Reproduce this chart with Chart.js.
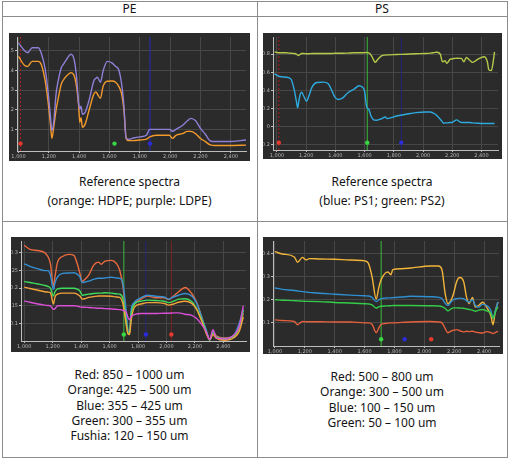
<!DOCTYPE html>
<html>
<head>
<meta charset="utf-8">
<script src="https://cdn.jsdelivr.net/npm/chart.js@4.4.0/dist/chart.umd.min.js"></script>
<style>
  body { margin: 0; background: #fff; font-family: "Noto Sans", sans-serif; color: #141414; }
  #page { position: relative; width: 510px; height: 462px; overflow: hidden; }
  .hl, .vl { position: absolute; background: #8c8c8c; }
  .hl { height: 1px; left: 2px; width: 506px; }
  .vl { width: 1px; top: 1px; height: 457px; }
  .head { position: absolute; top: 1px; height: 15px; line-height: 15px; font-size: 12px; text-align: center; }
  .cap { position: absolute; text-align: center; font-size: 12px; }
  .box { position: absolute; background: #2b2b2b; }
  .box canvas { display: block; }
</style>
</head>
<body>
<div id="page">
  <div class="hl" style="top:1px"></div>
  <div class="hl" style="top:16px"></div>
  <div class="hl" style="top:221px"></div>
  <div class="hl" style="top:457px"></div>
  <div class="vl" style="left:2px"></div>
  <div class="vl" style="left:257px"></div>
  <div class="vl" style="left:507px"></div>

  <div class="head" style="left:2px;width:255px">PE</div>
  <div class="head" style="left:257px;width:250px">PS</div>

  <div class="box" style="left:9px;top:33px;width:241px;height:128px"><canvas id="peRef" width="241" height="128"></canvas></div>
  <div class="box" style="left:263px;top:33px;width:239px;height:126px"><canvas id="psRef" width="239" height="126"></canvas></div>
  <div class="box" style="left:11px;top:237px;width:239px;height:115px"><canvas id="peSize" width="239" height="115"></canvas></div>
  <div class="box" style="left:263px;top:237px;width:240px;height:117px"><canvas id="psSize" width="240" height="117"></canvas></div>

  <div class="cap" style="left:2px;width:255px;top:173px;line-height:18.5px">Reference spectra<br>(orange: HDPE; purple: LDPE)</div>
  <div class="cap" style="left:257px;width:250px;top:173px;line-height:18.5px">Reference spectra<br>(blue: PS1; green: PS2)</div>
  <div class="cap" style="left:2px;width:255px;top:367px;line-height:15.3px">Red: 850 – 1000 um<br>Orange: 425 – 500 um<br>Blue: 355 – 425 um<br>Green: 300 – 355 um<br>Fushia: 120 – 150 um</div>
  <div class="cap" style="left:257px;width:250px;top:369px;line-height:15.3px">Red: 500 – 800 um<br>Orange: 300 – 500 um<br>Blue: 100 – 150 um<br>Green: 50 – 100 um</div>
</div>

<script>
// ---- PE reference spectra (wavenumber axis shared by both curves)
var peRefX = [1000, 1040, 1060, 1090, 1130, 1150, 1175, 1195, 1210, 1220, 1232, 1248, 1260, 1282, 1295, 1315, 1346, 1367, 1383, 1396,
  1404, 1412, 1421, 1440, 1466, 1497, 1510, 1520, 1540, 1558, 1585, 1616, 1640, 1660, 1680, 1695, 1709, 1725, 1757, 1800,
  1843, 1865, 1908, 1995, 2016, 2038, 2081, 2114, 2136, 2168, 2200, 2232, 2265, 2297, 2384, 2500];
var hdpe = [0.471, 0.425, 0.42, 0.446, 0.446, 0.43, 0.35, 0.24, 0.13, 0.054, 0.11, 0.2, 0.25, 0.33, 0.35, 0.37, 0.389, 0.373, 0.316, 0.226,
  0.136, 0.16, 0.111, 0.128, 0.2, 0.28, 0.291, 0.28, 0.258, 0.32, 0.345, 0.346, 0.34, 0.32, 0.28, 0.2, 0.06, 0.043, 0.043, 0.046,
  0.05, 0.062, 0.07, 0.07, 0.054, 0.07, 0.078, 0.09, 0.09, 0.078, 0.054, 0.038, 0.021, 0.018, 0.018, 0.02];
var ldpe = [0.54, 0.5, 0.49, 0.515, 0.515, 0.487, 0.41, 0.29, 0.17, 0.095, 0.136, 0.283, 0.34, 0.414, 0.43, 0.454, 0.482, 0.454, 0.365, 0.234,
  0.203, 0.218, 0.177, 0.188, 0.25, 0.348, 0.36, 0.365, 0.34, 0.398, 0.446, 0.438, 0.42, 0.405, 0.33, 0.22, 0.056, 0.05, 0.056, 0.062,
  0.07, 0.1, 0.1, 0.1, 0.09, 0.1, 0.12, 0.144, 0.156, 0.144, 0.105, 0.075, 0.041, 0.038, 0.038, 0.046];
var peRefYTicks = [0.1, 0.2, 0.3, 0.4, 0.5];
var peRefCursors = [1013, 1633, 1867]; // red, green, blue

// ---- PS reference spectra
var psRefX = [984, 1018, 1062, 1096, 1118, 1133, 1142, 1147, 1156, 1169, 1184, 1202, 1218, 1240, 1273, 1318, 1351, 1373, 1396, 1418,
  1451, 1484, 1529, 1562, 1584, 1600, 1613, 1629, 1644, 1662, 1673, 1684, 1696, 1718, 1740, 1756, 1818, 1884, 1951, 2018,
  2051, 2084, 2096, 2118, 2133, 2140, 2151, 2162, 2184, 2196, 2218, 2229, 2262, 2280, 2296, 2318, 2340, 2373, 2418, 2440,
  2451, 2467, 2480, 2489];
var ps1 = [0.582, 0.553, 0.545, 0.524, 0.407, 0.28, 0.207, 0.25, 0.335, 0.378, 0.335, 0.28, 0.335, 0.436, 0.487, 0.491, 0.473, 0.407, 0.327, 0.298,
  0.316, 0.371, 0.415, 0.451, 0.436, 0.389, 0.225, 0.189, 0.116, 0.073, 0.07, 0.069, 0.075, 0.087, 0.105, 0.087, 0.116, 0.135, 0.153, 0.16,
  0.16, 0.135, 0.12, 0.08, 0.05, 0.036, 0.04, 0.04, 0.044, 0.044, 0.065, 0.073, 0.044, 0.044, 0.044, 0.044, 0.04, 0.036, 0.033, 0.033,
  0.033, 0.033, 0.033, 0.033];
var ps2 = [0.825, 0.815, 0.815, 0.81, 0.807, 0.8, 0.79, 0.785, 0.795, 0.807, 0.807, 0.805, 0.805, 0.807, 0.807, 0.807, 0.808, 0.808, 0.81, 0.81,
  0.81, 0.812, 0.815, 0.815, 0.815, 0.817, 0.818, 0.815, 0.79, 0.735, 0.709, 0.73, 0.753, 0.785, 0.79, 0.792, 0.796, 0.8, 0.805, 0.807,
  0.812, 0.82, 0.822, 0.8, 0.716, 0.72, 0.727, 0.698, 0.742, 0.748, 0.753, 0.755, 0.753, 0.716, 0.764, 0.735, 0.709, 0.742, 0.771, 0.716,
  0.625, 0.618, 0.716, 0.825];
var psRefYTicks = [-0.2, 0, 0.2, 0.4, 0.6, 0.8];
var psRefCursors = [1013, 1618, 1851];

// ---- PE particle sizes
var peSizeX = [1000, 1040, 1097, 1143, 1166, 1184, 1205, 1216, 1234, 1269, 1315, 1349, 1372, 1391, 1407, 1423, 1453, 1487, 1522, 1540,
  1568, 1614, 1648, 1671, 1694, 1717, 1729, 1740, 1752, 1775, 1821, 1867, 1924, 1982, 2016, 2050, 2085, 2131, 2177, 2212,
  2258, 2281, 2304, 2327, 2350, 2407, 2476, 2511, 2540];
var peRed = [0.322, 0.31, 0.307, 0.301, 0.29, 0.269, 0.205, 0.233, 0.274, 0.29, 0.296, 0.293, 0.27, 0.242, 0.219, 0.224, 0.237, 0.265, 0.274, 0.268,
  0.277, 0.279, 0.27, 0.251, 0.205, 0.114, 0.077, 0.07, 0.13, 0.155, 0.169, 0.178, 0.173, 0.173, 0.168, 0.178, 0.19, 0.202, 0.185, 0.16,
  0.105, 0.073, 0.055, 0.078, 0.064, 0.059, 0.064, 0.087, 0.128];
var peBlue = [0.269, 0.262, 0.255, 0.25, 0.25, 0.237, 0.196, 0.215, 0.232, 0.242, 0.243, 0.244, 0.24, 0.232, 0.216, 0.217, 0.22, 0.225, 0.228, 0.228,
  0.229, 0.231, 0.229, 0.228, 0.212, 0.132, 0.08, 0.075, 0.14, 0.16, 0.173, 0.18, 0.177, 0.175, 0.169, 0.175, 0.18, 0.185, 0.178, 0.158,
  0.105, 0.08, 0.053, 0.078, 0.06, 0.057, 0.068, 0.1, 0.14];
var peGreen = [0.219, 0.216, 0.212, 0.208, 0.205, 0.2, 0.178, 0.19, 0.198, 0.2, 0.2, 0.2, 0.197, 0.192, 0.18, 0.181, 0.183, 0.185, 0.186, 0.186,
  0.187, 0.186, 0.184, 0.183, 0.169, 0.105, 0.073, 0.072, 0.125, 0.155, 0.163, 0.166, 0.165, 0.163, 0.159, 0.163, 0.169, 0.17, 0.162, 0.142,
  0.1, 0.075, 0.053, 0.073, 0.062, 0.055, 0.064, 0.087, 0.137];
var peOrange = [0.203, 0.199, 0.194, 0.19, 0.189, 0.187, 0.155, 0.175, 0.183, 0.186, 0.186, 0.186, 0.183, 0.178, 0.169, 0.17, 0.174, 0.176, 0.178, 0.178,
  0.178, 0.177, 0.175, 0.174, 0.155, 0.096, 0.07, 0.068, 0.11, 0.146, 0.155, 0.159, 0.159, 0.157, 0.152, 0.155, 0.16, 0.163, 0.157, 0.14,
  0.095, 0.07, 0.054, 0.068, 0.058, 0.052, 0.06, 0.077, 0.118];
var peFushia = [0.164, 0.16, 0.155, 0.152, 0.151, 0.15, 0.14, 0.142, 0.15, 0.15, 0.15, 0.15, 0.149, 0.147, 0.146, 0.146, 0.145, 0.144, 0.143, 0.143,
  0.142, 0.141, 0.14, 0.139, 0.137, 0.132, 0.117, 0.11, 0.12, 0.125, 0.128, 0.128, 0.128, 0.129, 0.129, 0.13, 0.13, 0.126, 0.123, 0.114,
  0.091, 0.075, 0.054, 0.082, 0.059, 0.056, 0.068, 0.091, 0.15];
var peSizeYTicks = [0.1, 0.15, 0.2, 0.25, 0.3];
var peSizeCursors = [2034, 1700, 1855];

// ---- PS particle sizes
var psSizeX = [1000, 1050, 1130, 1151, 1184, 1210, 1230, 1300, 1400, 1500, 1600, 1625, 1650, 1678, 1697, 1711, 1737, 1757, 1776, 1789,
  1850, 1908, 2040, 2095, 2118, 2140, 2158, 2178, 2195, 2217, 2237, 2263, 2283, 2300, 2322, 2342, 2364, 2390, 2417, 2445,
  2460, 2475, 2493];
var psOrange = [0.408, 0.398, 0.385, 0.362, 0.383, 0.372, 0.378, 0.376, 0.375, 0.372, 0.368, 0.358, 0.3, 0.203, 0.258, 0.287, 0.314, 0.32, 0.308, 0.33,
  0.334, 0.337, 0.346, 0.346, 0.33, 0.225, 0.183, 0.196, 0.225, 0.279, 0.296, 0.279, 0.21, 0.183, 0.21, 0.168, 0.175, 0.189, 0.168, 0.133,
  0.092, 0.15, 0.19];
var psBlue = [0.251, 0.245, 0.24, 0.238, 0.235, 0.233, 0.232, 0.228, 0.224, 0.22, 0.217, 0.216, 0.21, 0.192, 0.2, 0.205, 0.207, 0.208, 0.208, 0.209,
  0.212, 0.215, 0.213, 0.21, 0.205, 0.185, 0.175, 0.19, 0.2, 0.205, 0.207, 0.205, 0.195, 0.19, 0.2, 0.175, 0.168, 0.18, 0.175, 0.154,
  0.12, 0.15, 0.19];
var psGreen = [0.2, 0.198, 0.196, 0.195, 0.194, 0.193, 0.193, 0.192, 0.188, 0.186, 0.183, 0.182, 0.178, 0.164, 0.17, 0.172, 0.173, 0.174, 0.174, 0.175,
  0.175, 0.175, 0.174, 0.173, 0.17, 0.162, 0.152, 0.16, 0.165, 0.165, 0.164, 0.163, 0.16, 0.158, 0.155, 0.15, 0.155, 0.158, 0.152, 0.142,
  0.12, 0.145, 0.17];
var psRed = [0.113, 0.11, 0.106, 0.092, 0.106, 0.105, 0.105, 0.105, 0.104, 0.104, 0.1, 0.1, 0.094, 0.058, 0.08, 0.094, 0.097, 0.099, 0.1, 0.1,
  0.102, 0.104, 0.106, 0.104, 0.1, 0.075, 0.057, 0.064, 0.068, 0.071, 0.066, 0.061, 0.064, 0.062, 0.064, 0.06, 0.058, 0.056, 0.062, 0.058,
  0.054, 0.058, 0.064];
var psSizeYTicks = [0.1, 0.2, 0.3, 0.4];
var psSizeCursors = [2046, 1711, 1868];

var xTickValues = [1000, 1200, 1400, 1600, 1800, 2000, 2200, 2400];

function pts(xs, ys) {
  return xs.map(function (x, i) { return { x: x, y: ys[i] }; });
}

// cursors: [wavenumber, line colour, show vertical line, dashed, dot colour]
function cursorSets(list, yMin, yMax) {
  var sets = [];
  list.forEach(function (c) {
    if (c[2]) {
      sets.push({ data: [{ x: c[0], y: yMin }, { x: c[0], y: yMax }], borderColor: c[1], borderWidth: 1,
        borderDash: c[3] ? [2, 2] : [], pointRadius: 0, order: 10 });
    }
    sets.push({ data: [{ x: c[0], y: yMin + (yMax - yMin) * 0.065 }], showLine: false, pointRadius: 2.2,
      pointBackgroundColor: c[4], pointBorderWidth: 0, order: 0 });
  });
  return sets;
}

function spectra(id, o) {
  var datasets = o.series.map(function (s) {
    return { data: s[0], borderColor: s[1], borderWidth: 1.4, pointRadius: 0, tension: 0.25,
      cubicInterpolationMode: 'monotone', order: 1 };
  });
  datasets = datasets.concat(cursorSets(o.cursors, o.yMin, o.yMax));
  return new Chart(document.getElementById(id), {
    type: 'line',
    data: { datasets: datasets },
    options: {
      responsive: false,
      animation: false,
      layout: { padding: { top: o.padTop || 0, right: 0, left: 0, bottom: 0 } },
      plugins: { legend: { display: false }, tooltip: { enabled: false } },
      scales: {
        x: {
          type: 'linear', min: o.xMin, max: o.xMax,
          afterBuildTicks: function (s) { s.ticks = xTickValues.map(function (v) { return { value: v }; }); },
          afterFit: function (s) { s.height = o.xH; },
          ticks: { autoSkip: false, maxRotation: 0, padding: 1, color: '#b8b8b8', font: { size: 5, family: 'DejaVu Sans' },
            callback: function (v) { return v.toLocaleString('en-US'); } },
          grid: { color: '#474747', tickColor: '#bdbdbd', tickLength: 2 },
          border: { color: '#bdbdbd' }
        },
        y: {
          min: o.yMin, max: o.yMax,
          afterBuildTicks: function (s) { s.ticks = o.yTicks.map(function (v) { return { value: v }; }); },
          afterFit: function (s) { s.width = o.yW; },
          ticks: { padding: 1, color: '#b8b8b8', font: { size: 5, family: 'DejaVu Sans' },
            callback: function (v) { return String(+v.toFixed(2)); } },
          grid: { color: '#474747', tickColor: '#bdbdbd', tickLength: 2 },
          border: { color: '#bdbdbd' }
        }
      }
    }
  });
}

var RED = '#e23a2e', GRN = '#37d844', BLU = '#2b2bd8';

spectra('peRef', {
  series: [[pts(peRefX, ldpe), '#8f7fd6'], [pts(peRefX, hdpe), '#f39a2c']],
  xMin: 990, xMax: 2500, yMin: -0.01, yMax: 0.57, yTicks: peRefYTicks, yW: 8, xH: 10,
  cursors: [[peRefCursors[0], '#b02020', true, true, RED], [peRefCursors[1], GRN, false, false, GRN],
    [peRefCursors[2], '#2a2ab8', true, false, BLU]]
});

spectra('psRef', {
  series: [[pts(psRefX, ps2), '#b6c94a'], [pts(psRefX, ps1), '#2eaadf']],
  xMin: 973, xMax: 2513, yMin: -0.26, yMax: 0.99, yTicks: psRefYTicks, yW: 10, xH: 9,
  cursors: [[psRefCursors[0], '#b02020', true, true, RED], [psRefCursors[1], '#3cb83c', true, false, GRN],
    [psRefCursors[2], '#22227a', true, false, BLU]]
});

spectra('peSize', {
  series: [[pts(peSizeX, peFushia), '#d94fd6'], [pts(peSizeX, peOrange), '#f2a33a'], [pts(peSizeX, peGreen), '#3fdc5c'],
    [pts(peSizeX, peBlue), '#3590d3'], [pts(peSizeX, peRed), '#ea6a3d']],
  xMin: 977, xMax: 2559, yMin: 0.05, yMax: 0.334, yTicks: peSizeYTicks, yW: 10, xH: 11,
  cursors: [[peSizeCursors[0], '#7a2222', true, false, RED], [peSizeCursors[1], '#3cb83c', true, false, GRN],
    [peSizeCursors[2], '#24247a', true, false, BLU]]
});

spectra('psSize', {
  series: [[pts(psSizeX, psRed), '#e5603c'], [pts(psSizeX, psGreen), '#34cc48'], [pts(psSizeX, psBlue), '#2f8fcf'],
    [pts(psSizeX, psOrange), '#f2b53a']],
  xMin: 987, xMax: 2500, yMin: 0, yMax: 0.454, yTicks: psSizeYTicks, yW: 10, xH: 8,
  cursors: [[psSizeCursors[0], RED, false, false, RED], [psSizeCursors[1], '#3cb83c', true, false, GRN],
    [psSizeCursors[2], BLU, false, false, BLU]]
});
</script>
</body>
</html>
